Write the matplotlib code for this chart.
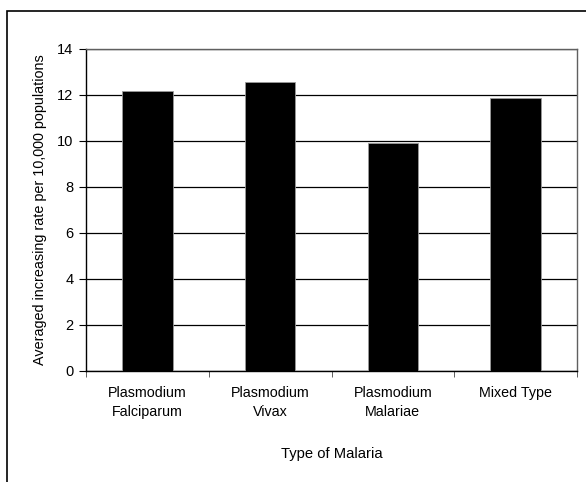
import matplotlib
matplotlib.use('Agg')
import matplotlib.pyplot as plt
from matplotlib.patches import Rectangle

categories = ['Plasmodium\nFalciparum', 'Plasmodium\nVivax', 'Plasmodium\nMalariae', 'Mixed Type']
rates = [12.15, 12.55, 9.9, 11.85]
yticks = [0, 2, 4, 6, 8, 10, 12, 14]

plt.rcParams['font.family'] = ['Liberation Sans', 'DejaVu Sans']

fig = plt.figure(figsize=(5.86, 4.82), dpi=100)
ax = fig.add_axes([86/586, 1 - 371/482, 491/586, 322.5/482])

x = range(len(categories))
ax.bar(x, rates, width=0.41, color='black', edgecolor='#9a9a9a', linewidth=0.6, zorder=3)

ax.set_ylim(0, 14)
ax.set_xlim(-0.5, len(categories) - 0.5)
ax.set_yticks(yticks)
ax.set_yticklabels([str(t) for t in yticks], fontsize=10.5)
ax.yaxis.grid(True, color='black', linewidth=0.9, zorder=0)
ax.set_axisbelow(True)

ax.set_xticks(x)
ax.set_xticklabels(categories, fontsize=10.3, linespacing=1.5)
ax.set_xticks([i + 0.5 for i in range(-1, len(categories))], minor=True)
ax.tick_params(axis='x', which='major', length=0, pad=10.5)
ax.tick_params(axis='x', which='minor', length=4, direction='out', color='#444444')
ax.tick_params(axis='y', length=5, direction='out', pad=4)

ax.spines['top'].set_color('#606060')
ax.spines['right'].set_color('#606060')
ax.spines['left'].set_color('black')
ax.spines['bottom'].set_color('black')
for s in ax.spines.values():
    s.set_linewidth(1.0)

ax.set_ylabel('Averaged increasing rate per 10,000 populations', fontsize=10.4, labelpad=7)
ax.set_xlabel('Type of Malaria', fontsize=10.6, labelpad=20)

# outer chart frame (only left and top edges visible)
fig.patches.append(Rectangle((7/586, -0.1), 1.2, 1 - 11/482 + 0.1, transform=fig.transFigure,
                             fill=False, edgecolor='black', linewidth=1.2))

fig.savefig('out.png', dpi=100)
